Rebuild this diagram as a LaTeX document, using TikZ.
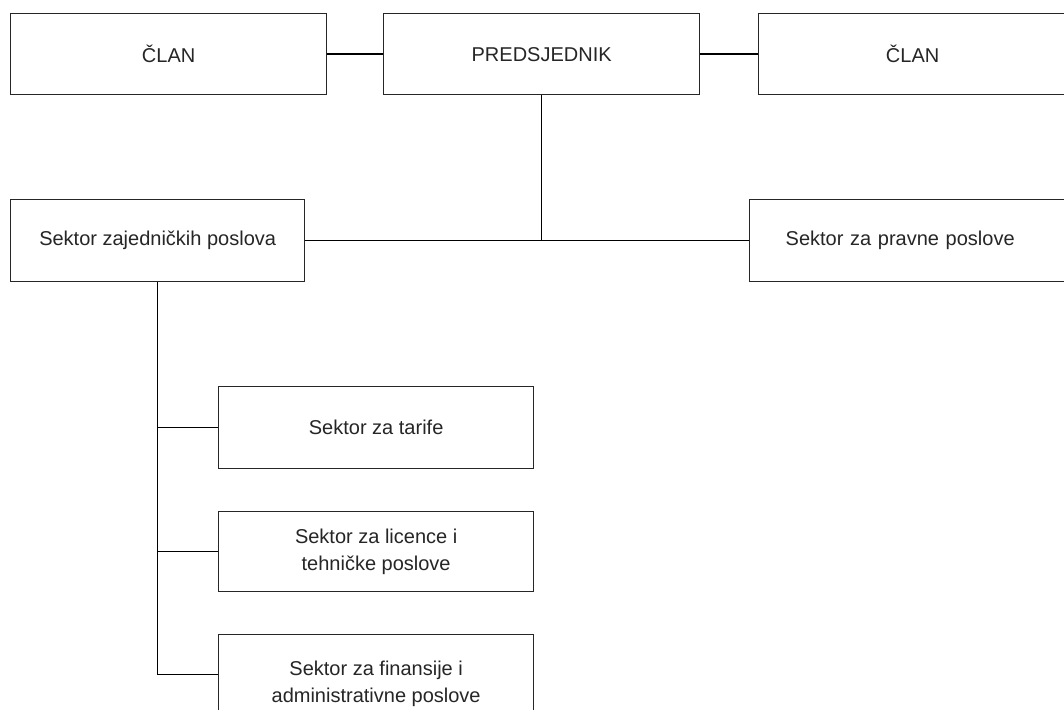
\documentclass[tikz,border=0pt]{standalone}
\usepackage{fontspec}
\setmainfont{Liberation Sans}
\usetikzlibrary{calc}
\begin{document}
\begin{tikzpicture}[x=1pt,y=-1pt,
  box/.style={draw=black!85, line width=1.3pt, rectangle, inner sep=0pt, align=center,
    font=\fontsize{20}{27}\selectfont, text=black!85},
  conn/.style={draw=black, line width=1.3pt}]
\useasboundingbox (0,0) rectangle (1064,709);
\clip (0,0) rectangle (1064,709);
\fill[white] (0,0) rectangle (1064,709);
% top row
\node[box, minimum width=316pt, minimum height=81pt, anchor=north west] (clanL) at (10,13) {ČLAN};
\node[box, minimum width=316pt, minimum height=81pt, anchor=north west] (pred) at (383,13) {PREDSJEDNIK};
\node[box, minimum width=308pt, minimum height=81pt, anchor=north west] (clanR) at (758,13) {ČLAN};
% second row
\node[box, minimum height=82pt, minimum width=294pt, anchor=north west] (szp) at (10,199) {Sektor zajedničkih poslova};
\node[box, minimum height=82pt, anchor=north west, text width=249pt, align=left, inner xsep=36pt] (pravne) at (749,199) {Sektor za pravne poslove};
% sub sectors
\node[box, minimum width=315pt, minimum height=82pt, anchor=north west] (tarife) at (218,386) {Sektor za tarife};
\node[box, minimum width=315pt, minimum height=80pt, anchor=north west] (licence) at (218,511) {Sektor za licence i\\tehničke poslove};
\node[box, minimum width=315pt, minimum height=98pt, anchor=north west] (fin) at (218,634) {Sektor za finansije i\\administrativne poslove};
% connectors
\draw[conn] (clanL.east) -- (pred.west);
\draw[conn] (pred.east) -- (clanR.west);
\draw[conn] (szp.east) -- (pravne.west);
\coordinate (j1) at (pred.south |- szp.east);
\draw[conn] (pred.south) -- (j1);
\coordinate (bend) at ($(szp.south)+(0,392)$);
\draw[conn] (szp.south) -- (bend) -- (bend -| fin.west);
\draw[conn] (szp.south |- tarife.west) -- (tarife.west);
\draw[conn] (szp.south |- licence.west) -- (licence.west);
\end{tikzpicture}
\end{document}
